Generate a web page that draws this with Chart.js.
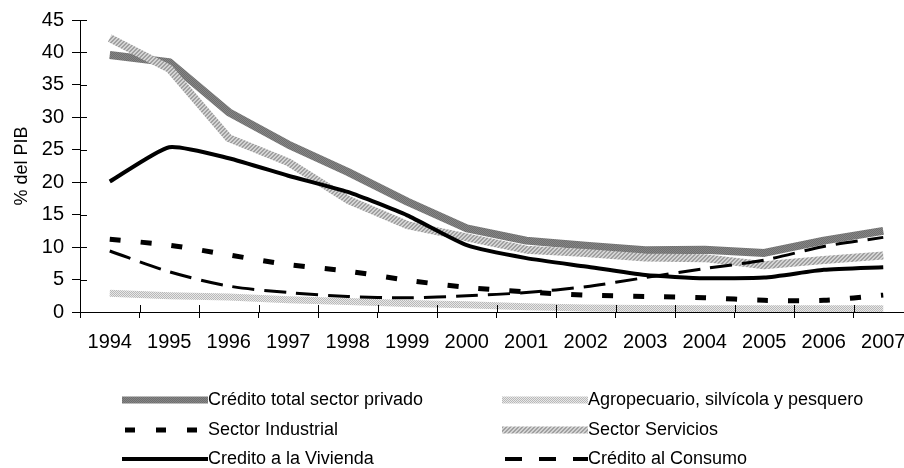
<!DOCTYPE html>
<html>
<head>
<meta charset="utf-8">
<script src="https://cdn.jsdelivr.net/npm/chart.js@4.4.1/dist/chart.umd.min.js"></script>
<style>
  html, body { margin: 0; padding: 0; background: #fff; overflow: hidden; }
  #wrap { width: 904px; height: 468px; overflow: hidden; }
</style>
</head>
<body>
<div id="wrap"><canvas id="chart" width="920" height="468"></canvas></div>
<script>
// data (% del PIB)
const years = ['1994', '1995', '1996', '1997', '1998', '1999', '2000',
               '2001', '2002', '2003', '2004', '2005', '2006', '2007'];
const totalPrivado = [39.6, 38.5, 30.8, 25.8, 21.6, 17.0, 12.9, 11.0, 10.2, 9.5, 9.6, 9.1, 11.0, 12.5];
const agropecuario = [2.9, 2.5, 2.3, 1.9, 1.6, 1.3, 1.1, 0.8, 0.6, 0.55, 0.5, 0.5, 0.5, 0.5];
const industrial   = [11.2, 10.3, 8.8, 7.3, 6.3, 4.9, 3.8, 3.1, 2.6, 2.4, 2.2, 1.8, 1.8, 2.6];
const servicios    = [42.2, 37.5, 26.8, 23.1, 17.3, 13.4, 11.5, 9.6, 9.1, 8.4, 8.3, 7.2, 8.0, 8.7];
const vivienda     = [20.1, 25.4, 23.7, 21.0, 18.5, 14.9, 10.3, 8.3, 7.0, 5.7, 5.2, 5.3, 6.5, 6.9];
const consumo      = [9.4, 6.2, 4.0, 3.0, 2.4, 2.2, 2.5, 3.0, 3.9, 5.3, 6.7, 8.0, 10.1, 11.5];
const yMin = 0, yMax = 45, yStep = 5;

const FONT = "'Liberation Sans', Arial, sans-serif";

// small texture fills like the old spreadsheet line patterns
function makePattern(a, b, kind) {
    const c = document.createElement('canvas');
    c.width = 4; c.height = 4;
    const g = c.getContext('2d');
    g.fillStyle = a;
    g.fillRect(0, 0, 4, 4);
    g.fillStyle = b;
    for (let y = 0; y < 4; y++) {
        for (let x = 0; x < 4; x++) {
            if (kind === 'check' && (x + y) % 2 === 0) g.fillRect(x, y, 1, 1);
            if (kind === 'diag' && (x + y) % 4 < 2) g.fillRect(x, y, 1, 1);
        }
    }
    return g.createPattern(c, 'repeat');
}
const ctx = document.getElementById('chart').getContext('2d');
const patTotal = makePattern('#868686', '#6e6e6e', 'check');
const patAgro = makePattern('#e8e8e8', '#b8b8b8', 'check');
const patServ = makePattern('#d4d4d4', '#a0a0a0', 'diag');

const datasets = [
    { label: 'Crédito total sector privado', data: totalPrivado, borderColor: patTotal, borderWidth: 8, order: 6, tension: 0,
      legend: { width: 7, dash: [] } },
    { label: 'Agropecuario, silvícola y pesquero', data: agropecuario, borderColor: patAgro, borderWidth: 7, order: 5, tension: 0,
      legend: { width: 7, dash: [] } },
    { label: 'Sector Industrial', data: industrial, borderColor: '#000', borderWidth: 5, borderDash: [11, 20], order: 4, tension: 0.3,
      legend: { width: 5, dash: [10, 21], start: 3 } },
    { label: 'Sector Servicios', data: servicios, borderColor: patServ, borderWidth: 8, order: 3, tension: 0,
      legend: { width: 7, dash: [] } },
    { label: 'Credito a la Vivienda', data: vivienda, borderColor: '#000', borderWidth: 4, order: 2, tension: 0.18,
      legend: { width: 4, dash: [] } },
    { label: 'Crédito al Consumo', data: consumo, borderColor: '#000', borderWidth: 3, borderDash: [22, 10], order: 1, tension: 0.3,
      legend: { width: 4, dash: [17, 17], start: 3 } }
];

// legend grid: two columns, three rows
const legendCols = [122, 502];
const legendRows = [400, 430, 459];
const sampleLen = 86;

const extrasPlugin = {
    id: 'extras',
    afterDraw(chart) {
        const c = chart.ctx;
        const area = chart.chartArea;
        const xs = chart.scales.x, ys = chart.scales.y;
        c.save();
        // inner half of the cross tick marks
        c.strokeStyle = '#000';
        c.lineWidth = 1;
        c.beginPath();
        const half = (xs.getPixelForValue(1) - xs.getPixelForValue(0)) / 2;
        for (let i = 0; i <= years.length; i++) {
            const px = Math.round(xs.getPixelForValue(0) - half + i * half * 2) + 0.5;
            c.moveTo(px, area.bottom);
            c.lineTo(px, area.bottom - 7);
        }
        ys.ticks.forEach(t => {
            const py = Math.round(ys.getPixelForValue(t.value)) + 0.5;
            c.moveTo(area.left, py);
            c.lineTo(area.left + 7, py);
        });
        c.stroke();

        // legend
        c.font = '18px ' + FONT;
        c.textBaseline = 'middle';
        c.fillStyle = '#000';
        chart.data.datasets.forEach((ds, i) => {
            const x0 = legendCols[i % 2];
            const y0 = legendRows[Math.floor(i / 2)];
            const st = ds.legend.start || 0;
            c.beginPath();
            c.strokeStyle = ds.borderColor;
            c.lineWidth = ds.legend.width;
            c.setLineDash(ds.legend.dash);
            c.moveTo(x0 + st, y0);
            c.lineTo(x0 + sampleLen, y0);
            c.stroke();
            c.setLineDash([]);
            c.fillText(ds.label, x0 + sampleLen, y0);
        });
        c.restore();
    }
};

new Chart(ctx, {
    type: 'line',
    data: { labels: years, datasets: datasets },
    options: {
        responsive: false,
        animation: false,
        layout: { padding: { top: 20, right: 7, left: 0, bottom: 0 } },
        elements: { point: { radius: 0 }, line: { borderJoinStyle: 'round', borderCapStyle: 'butt' } },
        plugins: { legend: { display: false }, tooltip: { enabled: false } },
        scales: {
            x: {
                offset: true,
                grid: { offset: true, drawOnChartArea: false, color: '#000', tickLength: 6 },
                border: { color: '#000' },
                ticks: { color: '#000', font: { family: FONT, size: 20 }, padding: 12, maxRotation: 0, autoSkip: false },
                afterFit(s) { s.height = 156; }
            },
            y: {
                min: yMin, max: yMax,
                grid: { drawOnChartArea: false, color: '#000', tickLength: 8 },
                border: { color: '#000' },
                ticks: { stepSize: yStep, color: '#000', font: { family: FONT, size: 20 }, padding: 8 },
                title: { display: true, text: '% del PIB', color: '#000', font: { family: FONT, size: 18 }, padding: { top: 11, bottom: 0 } },
                afterFit(s) { s.width = 80; }
            }
        }
    },
    plugins: [extrasPlugin]
});
</script>
</body>
</html>
